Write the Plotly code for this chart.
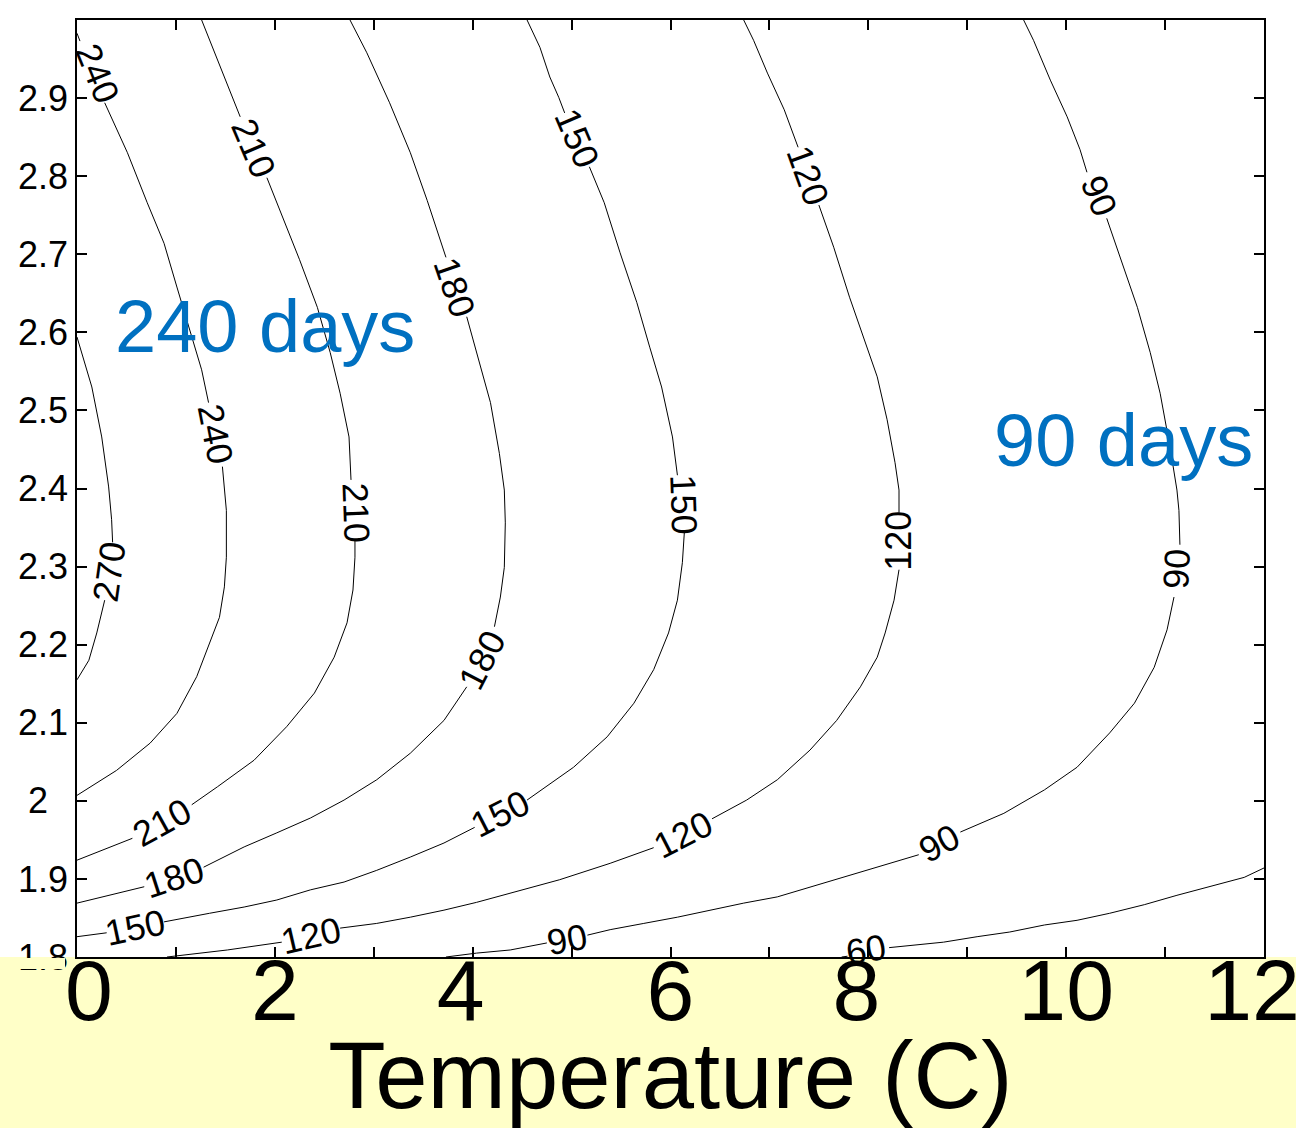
import plotly.graph_objects as go

N = None
# ---- contour lines (Temperature C, y-value); None = gap where the inline label sits ----
T_270 = [0.00, 0.15, 0.25, 0.32, 0.35, 0.36, N, 0.28, 0.20, 0.12, 0.00]
S_270 = [2.594, 2.530, 2.466, 2.402, 2.360, 2.331, N, 2.257, 2.215, 2.180, 2.155]

T_240 = [0.00, 0.03, N, 0.28, 0.51, 0.71, 0.88, 1.01, 1.14, 1.26, 1.33, N,
         1.47, 1.49, 1.51, 1.51, 1.49, 1.44, 1.34, 1.21, 1.01, 0.74, 0.40, 0.00]
S_240 = [2.983, 2.973, N, 2.894, 2.830, 2.766, 2.714, 2.658, 2.603, 2.552, 2.510, N,
         2.428, 2.398, 2.372, 2.312, 2.274, 2.235, 2.202, 2.159, 2.112, 2.074, 2.039, 2.007]

T_210 = [1.26, 1.38, 1.55, 1.65, N, 1.92, 2.09, 2.25, 2.43, 2.56, 2.66, 2.75, 2.77, N,
         2.81, 2.81, 2.79, 2.73, 2.60, 2.40, 2.12, 1.79, 1.42, 1.16, N, 0.56, 0.00]
S_210 = [3.000, 2.962, 2.910, 2.876, N, 2.798, 2.744, 2.693, 2.632, 2.574, 2.522, 2.466, 2.411, N,
         2.334, 2.312, 2.270, 2.228, 2.184, 2.138, 2.095, 2.052, 2.018, 1.995, N, 1.952, 1.924]

T_180 = [2.76, 2.93, 3.16, 3.37, 3.54, 3.71, 3.73, N, 3.94, 4.04, 4.18, 4.27, 4.32, 4.33, 4.32, 4.28, 4.22, N,
         3.94, 3.71, 3.37, 3.03, 2.70, 2.36, 2.02, 1.69, 1.28, N, 0.68, 0.00]
S_180 = [3.000, 2.958, 2.894, 2.830, 2.769, 2.705, 2.696, N, 2.620, 2.574, 2.510, 2.445, 2.398, 2.356, 2.299, 2.261, 2.223, N,
         2.146, 2.103, 2.061, 2.027, 2.001, 1.978, 1.959, 1.941, 1.915, N, 1.890, 1.869]

T_150 = [4.55, 4.68, 4.78, 4.87, 4.93, N, 5.18, 5.33, 5.49, 5.66, 5.79, 5.91, 6.02, 6.07, N,
         6.14, 6.12, 6.07, 5.98, 5.83, 5.63, 5.36, 5.02, 4.55, N,
         4.02, 3.71, 3.37, 3.03, 2.70, 2.36, 2.02, 1.69, 1.34, 0.88, N, 0.30, 0.00]
S_150 = [3.000, 2.965, 2.927, 2.901, 2.881, N, 2.812, 2.766, 2.702, 2.638, 2.581, 2.530, 2.466, 2.417, N,
         2.344, 2.305, 2.257, 2.215, 2.168, 2.125, 2.082, 2.043, 2.001, N,
         1.966, 1.946, 1.928, 1.911, 1.896, 1.886, 1.873, 1.864, 1.856, 1.845, N, 1.831, 1.826]

T_120 = [6.74, 6.84, 6.98, 7.15, 7.29, N, 7.50, 7.65, 7.81, 7.96, 8.09, 8.19, 8.27, 8.31, 8.31, N,
         8.31, 8.26, 8.17, 8.09, 7.92, 7.68, 7.41, 7.08, 6.77, 6.42, N,
         5.83, 5.39, 4.88, 4.38, 4.04, 3.71, 3.37, 3.03, 2.66, N, 2.07, 1.52, 0.91]
S_120 = [3.000, 2.974, 2.932, 2.885, 2.837, N, 2.763, 2.709, 2.645, 2.590, 2.543, 2.488, 2.433, 2.398, 2.369, N,
         2.296, 2.257, 2.215, 2.184, 2.146, 2.103, 2.065, 2.027, 2.001, 1.977, N,
         1.940, 1.920, 1.899, 1.882, 1.870, 1.860, 1.851, 1.843, 1.837, N, 1.819, 1.809, 1.800]

T_90 = [9.57, 9.67, 9.84, 10.01, 10.14, 10.21, N, 10.41, 10.58, 10.72, 10.85, 10.95, 11.05, 11.12, 11.14, 11.15, N,
        11.09, 11.02, 10.89, 10.69, 10.44, 10.11, 9.78, 9.37, 8.93, N,
        8.51, 8.09, 7.75, 7.41, 7.08, 6.74, 6.40, 6.07, 5.73, 5.39, 5.16, N, 4.75, 4.38, 4.04, 3.73]
S_90 = [3.000, 2.974, 2.923, 2.876, 2.834, 2.805, N, 2.746, 2.684, 2.632, 2.574, 2.522, 2.453, 2.398, 2.372, 2.328, N,
        2.261, 2.219, 2.171, 2.125, 2.087, 2.043, 2.014, 1.984, 1.960, N,
        1.931, 1.915, 1.902, 1.890, 1.877, 1.869, 1.860, 1.851, 1.843, 1.835, 1.828, N, 1.818, 1.809, 1.805, 1.800]

T_60 = [7.73, 7.79, N, 8.21, 8.42, 8.76, 9.10, 9.43, 9.78, 10.11, 10.44, 10.79, 11.12, 11.45, 11.80, 12.00]
S_60 = [1.800, 1.801, N, 1.812, 1.815, 1.819, 1.826, 1.832, 1.841, 1.847, 1.856, 1.867, 1.879, 1.890, 1.902, 1.914]

CONTOURS = [(T_270, S_270), (T_240, S_240), (T_210, S_210), (T_180, S_180),
            (T_150, S_150), (T_120, S_120), (T_90, S_90), (T_60, S_60)]

# ---- inline contour labels ----
LABEL_TEXT = ["240", "210", "180", "150", "120", "90",
              "240", "210", "150", "270", "120", "90",
              "180", "210", "150", "120", "90",
              "180", "150", "120", "90", "60"]
LABEL_T = [0.21, 1.79, 3.82, 5.05, 7.39, 10.33,
           1.40, 2.82, 6.13, 0.32, 8.31, 11.12,
           4.09, 0.86, 4.28, 6.13, 8.71,
           0.98, 0.59, 2.37, 4.95, 7.98]
LABEL_S = [2.932, 2.836, 2.658, 2.849, 2.801, 2.775,
           2.469, 2.369, 2.379, 2.293, 2.333, 2.297,
           2.180, 1.972, 1.984, 1.957, 1.946,
           1.902, 1.838, 1.827, 1.822, 1.809]
LABEL_ANGLE = [68, 67, 71, 67, 70, 68,
               79, 88, 88, -82, -90, -87,
               -63, -29, -27, -27, -28,
               -18, -12, -13, -10, -10]

# ---- axes ----
NB = "\u00a0"
X_TICKS = list(range(0, 13))
X_TICKTEXT = [NB + "0", "", "2", "", "4" + NB, "", "6", "", "8" + NB, "", "10", "", "12" + NB]
Y_TICKS = [1.8, 1.9, 2.0, 2.1, 2.2, 2.3, 2.4, 2.5, 2.6, 2.7, 2.8, 2.9, 3.0]
Y_TICKTEXT = ["1.8", "1.9", "2" + NB + NB, "2.1", "2.2", "2.3", "2.4", "2.5",
              "2.6", "2.7", "2.8", "2.9", "3" + NB + NB]

NOTE_TEXT = ["240 days", "90 days"]
NOTE_T = [1.90, 10.58]
NOTE_S = [2.607, 2.462]

FONT = "Liberation Sans, Arial, sans-serif"

fig = go.Figure()
for T, S in CONTOURS:
    fig.add_trace(go.Scatter(x=T, y=S, mode="lines", connectgaps=False,
                             line=dict(color="black", width=1),
                             hoverinfo="skip", showlegend=False))

for txt, t, s, a in zip(LABEL_TEXT, LABEL_T, LABEL_S, LABEL_ANGLE):
    fig.add_annotation(x=t, y=s, xref="x", yref="y", text=txt, showarrow=False,
                       textangle=a, xanchor="center", yanchor="middle",
                       font=dict(family=FONT, size=36, color="black"))

for txt, t, s in zip(NOTE_TEXT, NOTE_T, NOTE_S):
    fig.add_annotation(x=t, y=s, xref="x", yref="y", text=txt, showarrow=False,
                       xanchor="center", yanchor="middle",
                       font=dict(family=FONT, size=74, color="#0070C0"))

PW, PH = 1187, 937
# yellow band under the axis
fig.add_shape(type="rect", xref="paper", yref="paper", layer="below",
              x0=-77 / PW, x1=1 + 32 / PW, y0=-171 / PH, y1=0,
              fillcolor="#FFFFC8", line=dict(width=0))
# band edge covering the lower part of the lowest y label
fig.add_shape(type="rect", xref="paper", yref="paper", layer="above",
              x0=-77 / PW, x1=-12 / PW, y0=-12 / PH, y1=-1 / PH,
              fillcolor="#FFFFC8", line=dict(width=0))

axis_common = dict(showline=True, linecolor="black", linewidth=1.5, mirror="ticks",
                   ticks="inside", ticklen=10, tickwidth=1.5, tickcolor="black",
                   showgrid=False, zeroline=False)

fig.update_xaxes(range=[0, 12], tickmode="array", tickvals=X_TICKS, ticktext=X_TICKTEXT,
                 tickfont=dict(family=FONT, size=86, color="black"),
                 ticklabelstandoff=-42, ticklabeloverflow="allow",
                 title=dict(text="Temperature (C)", font=dict(family=FONT, size=94, color="black"),
                            standoff=0),
                 **axis_common)
fig.update_yaxes(range=[1.8, 3.0], tickmode="array", tickvals=Y_TICKS, ticktext=Y_TICKTEXT,
                 tickfont=dict(family=FONT, size=36, color="black"),
                 **axis_common)

fig.update_layout(width=1296, height=1128,
                  margin=dict(l=77, r=32, t=20, b=171, autoexpand=False),
                  plot_bgcolor="white", paper_bgcolor="white",
                  font=dict(family=FONT))

fig.write_html("out.html")
